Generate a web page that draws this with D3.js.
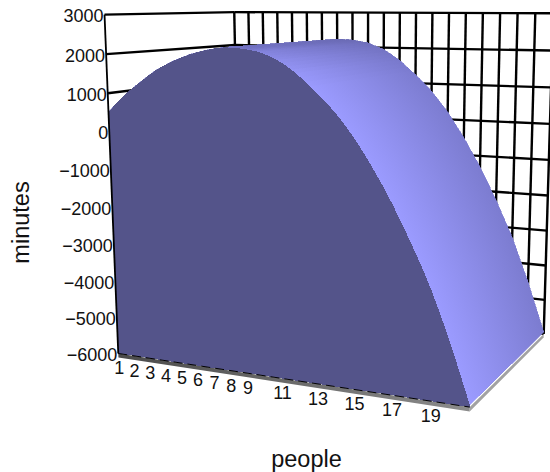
<!DOCTYPE html>
<html>
<head>
<meta charset="utf-8">
<script src="https://cdn.jsdelivr.net/npm/d3@7"></script>
<style>
html,body{margin:0;background:#fff}
text{font-family:"Liberation Sans",Arial,sans-serif;fill:#111}
</style>
</head>
<body>
<svg width="550" height="472"></svg>
<script>
// values
const people = d3.range(1, 22);
const minutes = [513, 950, 1300, 1620, 1850, 2030, 2150, 2225, 2205, 2130, 1950, 1650, 1240,
    790, 210, -500, -1310, -2240, -3270, -4530, -5950];
const peopleTicks = [1, 2, 3, 4, 5, 6, 7, 8, 9, 11, 13, 15, 17, 19];
const minuteTicks = [3000, 2000, 1000, 0, -1000, -2000, -3000, -4000, -5000, -6000];

// where known box positions land on screen: [u, depth, w, x, y]
const anchors = [
    [0, 0, 0, 117, 352], [1, 0, 0, 470, 407], [1, 1, 0, 543.5, 335],
    [0, 0, 1, 105, 14], [0, 1, 1, 235, 12], [1, 1, 1, 553, 13],
    [0, 0, 0.667, 108, 134], [1, 1, 0.667, 549.5, 123], [0, 1, 0.889, 235, 45], [0.4, 0, 0, 249, 373]
];

function solve(A, b) {
    const n = b.length;
    A = A.map((r, i) => [...r, b[i]]);
    for (let i = 0; i < n; i++) {
        let m = i;
        for (let k = i + 1; k < n; k++) if (Math.abs(A[k][i]) > Math.abs(A[m][i])) m = k;
        [A[i], A[m]] = [A[m], A[i]];
        for (let k = 0; k < n; k++) {
            if (k === i) continue;
            const f = A[k][i] / A[i][i];
            for (let j = i; j <= n; j++) A[k][j] -= f * A[i][j];
        }
    }
    return A.map((r, i) => r[n] / r[i]);
}

// perspective camera fitted to the anchors (least squares)
const rows = [], rhs = [];
anchors.forEach(([u, d, w, x, y]) => {
    rows.push([u, d, w, 1, 0, 0, 0, 0, -x * u, -x * d, -x * w]); rhs.push(x);
    rows.push([0, 0, 0, 0, u, d, w, 1, -y * u, -y * d, -y * w]); rhs.push(y);
});
const normal = rows[0].map((_, i) => rows[0].map((_, j) => d3.sum(rows, r => r[i] * r[j])));
const h = solve(normal, rows[0].map((_, i) => d3.sum(rows, (r, k) => r[i] * rhs[k])));

const uScale = d3.scaleLinear().domain([1, 21]).range([0, 1]);
const wScale = d3.scaleLinear().domain([-6000, 3000]).range([0, 1]);
// minutes at any position along the people axis, for drawing between the read values
const curveAt = d3.scaleLinear().domain(people).range(minutes);

function project(p, d, m) {
    const u = uScale(p), w = wScale(m);
    const s = h[8] * u + h[9] * d + h[10] * w + 1;
    return [(h[0] * u + h[1] * d + h[2] * w + h[3]) / s, (h[4] * u + h[5] * d + h[6] * w + h[7]) / s];
}

const svg = d3.select("svg");
const defs = svg.append("defs");
const line = d3.line();
const floorMin = -6000, slabMin = -6110;

// walls
const grid = svg.append("g").attr("fill", "none").attr("stroke", "#000").attr("stroke-width", 2.4);
people.forEach(p => grid.append("path").attr("d", line([project(p, 1, 3000), project(p, 1, floorMin)])));
minuteTicks.forEach(m => {
    grid.append("path").attr("d", line([project(1, 1, m), project(21, 1, m)]));
    grid.append("path").attr("d", line([project(1, 0, m), project(1, 1, m)]));
});

// floor slab
const slabFront = defs.append("linearGradient").attr("id", "slabFront").attr("gradientUnits", "userSpaceOnUse")
    .attr("x1", 117).attr("y1", 0).attr("x2", 470).attr("y2", 0);
slabFront.append("stop").attr("offset", 0).attr("stop-color", "#4a4a4a");
slabFront.append("stop").attr("offset", 1).attr("stop-color", "#8c8c8c");
svg.append("path")
    .attr("d", line([project(1, 0, floorMin), project(21, 0, floorMin), project(21, 0, slabMin), project(1, 0, slabMin)]) + "Z")
    .attr("fill", "url(#slabFront)");
svg.append("path")
    .attr("d", line([project(21, 0, floorMin), project(21, 1, floorMin), project(21, 1, slabMin), project(21, 0, slabMin)]) + "Z")
    .attr("fill", "#a2a2a2");

// top surface, thin strips so the shading runs smoothly along people
const frontShade = d3.scaleLinear().domain([-50, -120, -420]).range(["#7272c4", "#8383dc", "#9b9bff"]).clamp(true);
const backShade = d3.scaleLinear().domain([-50, -420]).range(["#6b6bb5", "#7c7cd0"]).clamp(true);
const slopeAt = d3.scaleLinear()
    .domain(people.slice(1, -1))
    .range(people.slice(1, -1).map((p, i) => (minutes[i + 2] - minutes[i]) / 2))
    .clamp(true);
const surface = svg.append("g").attr("shape-rendering", "crispEdges");
const stepSize = 0.25;
d3.range(1, 21, stepSize).forEach((p, i) => {
    const q = p + stepSize;
    const f0 = project(p, 0, curveAt(p)), f1 = project(q, 0, curveAt(q));
    const b0 = project(p, 1, curveAt(p)), b1 = project(q, 1, curveAt(q));
    const fm = [(f0[0] + f1[0]) / 2, (f0[1] + f1[1]) / 2], bm = [(b0[0] + b1[0]) / 2, (b0[1] + b1[1]) / 2];
    const ex = f1[0] - f0[0], ey = f1[1] - f0[1], len = Math.hypot(ex, ey);
    const nx = -ey / len, ny = ex / len;
    const dot = (bm[0] - fm[0]) * nx + (bm[1] - fm[1]) * ny;
    // keep the shading across the strip, unless strip and depth run almost the same way
    const end = Math.abs(dot) > 25 ? [fm[0] + nx * dot, fm[1] + ny * dot] : bm;
    const slope = slopeAt(p + stepSize / 2);
    const g = defs.append("linearGradient").attr("id", "strip" + i).attr("gradientUnits", "userSpaceOnUse")
        .attr("x1", fm[0]).attr("y1", fm[1]).attr("x2", end[0]).attr("y2", end[1]);
    g.append("stop").attr("offset", 0).attr("stop-color", frontShade(slope));
    g.append("stop").attr("offset", 1).attr("stop-color", backShade(slope));
    surface.append("path")
        .attr("d", line([f0, f1, b1, b0]) + "Z")
        .attr("fill", `url(#strip${i})`)
        .attr("stroke", `url(#strip${i})`)
        .attr("stroke-width", 0.6);
});

// front face
const topEdge = d3.line().curve(d3.curveCatmullRom)(people.map((p, i) => project(p, 0, minutes[i])));
const bottomRight = project(21, 0, floorMin), bottomLeft = project(1, 0, floorMin);
svg.append("path")
    .attr("d", `${topEdge}L${bottomRight}L${bottomLeft}Z`)
    .attr("fill", "#54548a")
    .attr("shape-rendering", "crispEdges");

// box edges on top of the surface
svg.append("path")
    .attr("d", line([project(1, 0, 3000), project(1, 0, floorMin)]))
    .attr("fill", "none").attr("stroke", "#000").attr("stroke-width", 1.8);
svg.append("path")
    .attr("d", line([project(1, 0, floorMin), project(21, 0, floorMin)]))
    .attr("fill", "none").attr("stroke", "#000").attr("stroke-width", 1)
    .attr("stroke-dasharray", "9 5");

// tick labels
svg.append("g").selectAll("text").data(minuteTicks).enter().append("text")
    .attr("x", d => project(1, 0, d)[0] - 1)
    .attr("y", d => project(1, 0, d)[1] + 7.5)
    .attr("text-anchor", "end")
    .attr("font-size", 18)
    .text(d => d < 0 ? "\u2212" + (-d) : d);

svg.append("g").selectAll("text").data(peopleTicks).enter().append("text")
    .attr("x", d => project(d, 0, floorMin)[0] + 1)
    .attr("y", d => project(d, 0, floorMin)[1] + 21)
    .attr("text-anchor", "middle")
    .attr("font-size", 18)
    .text(d => d);

// axis titles
svg.append("text")
    .attr("x", 306.5).attr("y", 467)
    .attr("text-anchor", "middle")
    .attr("font-size", 23.5)
    .text("people");

svg.append("text")
    .attr("transform", "translate(29,222.5) rotate(-90)")
    .attr("text-anchor", "middle")
    .attr("font-size", 23.5)
    .text("minutes");
</script>
</body>
</html>
